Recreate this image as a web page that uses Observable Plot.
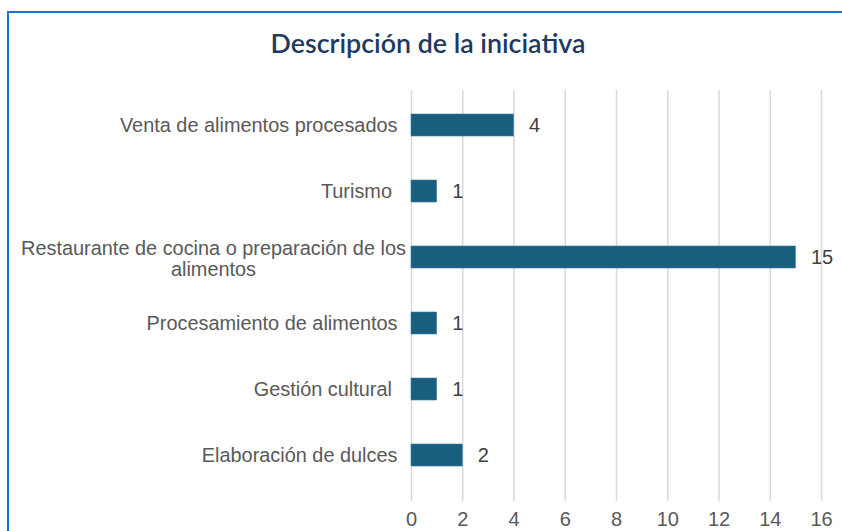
<!DOCTYPE html>
<html><head><meta charset="utf-8">
<script src="https://cdn.jsdelivr.net/npm/d3@7"></script>
<script src="https://cdn.jsdelivr.net/npm/@observablehq/plot@0.6"></script>
<style>
body{margin:0;background:#fff;}
#wrap{position:relative;width:842px;height:531px;overflow:hidden;background:#fff;}
#frame{position:absolute;left:7px;top:11px;width:900px;height:600px;border-left:2px solid #1b74cc;border-top:2px solid #1b74cc;box-sizing:border-box;}
#title{position:relative;height:49px;padding-top:31px;padding-left:14px;text-align:center;font-family:Lato,sans-serif;font-weight:600;font-size:26.8px;line-height:25px;color:#1e3a5f;}
#chart{position:relative;}
svg text{white-space:pre;}
</style></head>
<body>
<div id="wrap">
<div id="frame"></div>
<div id="title">Descripción de la iniciativa</div>
<div id="chart"></div>
</div>
<script>
const categories = [
  "Venta de alimentos procesados",
  "Turismo ",
  "Restaurante de cocina o preparación de los\nalimentos",
  "Procesamiento de alimentos",
  "Gestión cultural ",
  "Elaboración de dulces"
];
const values = [4, 1, 15, 1, 1, 2];
const xTicks = [0, 2, 4, 6, 8, 10, 12, 14, 16];

const data = categories.map((c, i) => ({category: c, value: values[i]}));
const wrapped = data.filter(d => d.category.includes("\n"));
const single = data.filter(d => !d.category.includes("\n"));

const plot = Plot.plot({
  width: 842,
  height: 451,
  marginLeft: 411,
  marginRight: 21,
  marginTop: 10,
  marginBottom: 36,
  style: {fontFamily: "'Liberation Sans', Arial, sans-serif", background: "transparent", overflow: "visible"},
  x: {domain: [0, 16], ticks: xTicks, axis: null},
  y: {domain: categories, paddingInner: 0.67, paddingOuter: 0.335, insetTop: 1, insetBottom: 6, axis: null},
  marks: [
    Plot.ruleX(xTicks, {stroke: "#d9d9d9", strokeWidth: 1.5, insetBottom: -6}),
    Plot.barX(data, {x: "value", y: "category", fill: "#175e7f", stroke: "#3f7d9a", strokeWidth: 0.6}),
    Plot.text(data, {x: "value", y: "category", text: d => String(d.value), dx: 15, textAnchor: "start", fontSize: 20, fill: "#404040"}),
    Plot.axisX({ticks: xTicks, tickSize: 0, tickPadding: 16.5, fontSize: 20, color: "#595959", label: null}),
    Plot.text(single, {x: () => 0, y: "category", text: "category", dx: -14, textAnchor: "end", fontSize: 19.9, fill: "#595959"}),
    Plot.text(wrapped, {x: () => 0, y: "category", text: "category", dx: -198, dy: 1, textAnchor: "middle", lineHeight: 1.1, fontSize: 19.9, fill: "#595959"})
  ]
});
document.getElementById("chart").appendChild(plot);
</script>
</body></html>
